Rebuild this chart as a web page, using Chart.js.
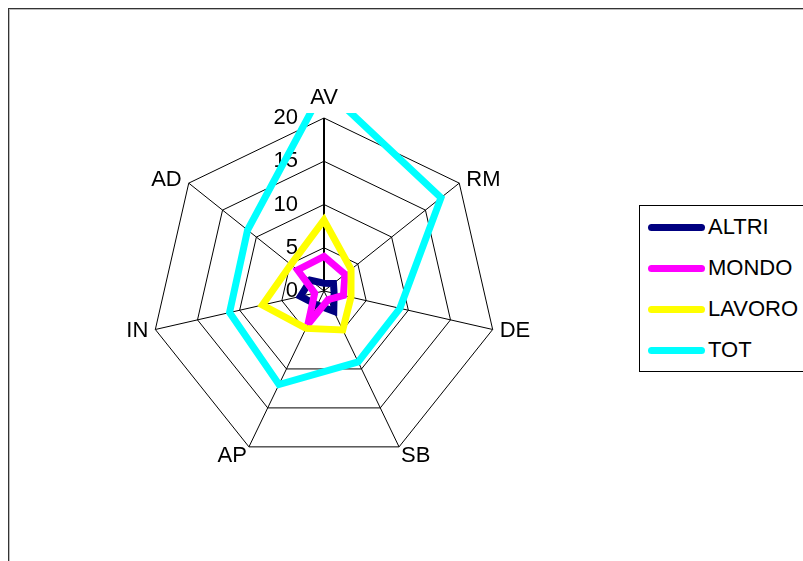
<!DOCTYPE html>
<html>
<head>
<meta charset="utf-8">
<script src="https://cdn.jsdelivr.net/npm/chart.js@4/dist/chart.umd.min.js"></script>
<style>
  body { margin: 0; background: #fff; width: 803px; height: 561px; overflow: hidden; position: relative;
         font-family: "Liberation Sans", Arial, sans-serif; }
  #frame { position: absolute; left: 8px; top: 8px; width: 900px; height: 700px;
           border: 1px solid #333; box-shadow: inset 1px 1px 0 #bbb; }
  #chartBox { position: absolute; left: 0; top: 0; width: 803px; height: 561px; }
  #legend { position: absolute; left: 639px; top: 205px; width: 200px; height: 165px;
            border: 1px solid #000; background: #fff; }
  .item { position: absolute; left: 8px; height: 26px; margin-top: -13px; display: flex; align-items: center;
          font-size: 22px; color: #000; }
  .swatch { width: 57px; height: 7px; border-radius: 4px; margin-right: 3px; }
</style>
</head>
<body>
<div id="frame"></div>
<div id="chartBox"><canvas id="myChart" width="803" height="561"></canvas></div>
<div id="legend"></div>
<script>
var categories = ["AV", "RM", "DE", "SB", "AP", "IN", "AD"];
var seriesNames = ["ALTRI", "MONDO", "LAVORO", "TOT"];
var seriesColors = ["#000080", "#FF00FF", "#FFFF00", "#00FFFF"];
var altri = [0.9, 1.4, 1.2, 2.6, 1.8, 2.8, 2.0];
var mondo = [4.0, 3.1, 2.3, 1.1, 4.3, 1.1, 3.9];
var lavoro = [8.2, 4.0, 3.2, 5.0, 4.8, 7.3, 4.9];
var tot = [23.5, 17.3, 9.0, 9.1, 12.0, 11.2, 11.3];
var tickValues = [0, 5, 10, 15, 20];

var FONT = '"Liberation Sans", Arial, sans-serif';

// Excel-style text: tick numbers left of the AV axis, category names hugging the corners
var radarText = {
    id: "radarText",
    beforeDatasetsDraw: function (chart) {
        var s = chart.scales.r;
        var ctx = chart.ctx;
        ctx.save();
        ctx.font = "22px " + FONT;
        ctx.fillStyle = "#000";

        ctx.textAlign = "right";
        ctx.textBaseline = "middle";
        tickValues.forEach(function (v) {
            ctx.fillText(String(v), s.xCenter - 26, s.yCenter - s.getDistanceFromCenterForValue(v));
        });

        categories.forEach(function (name, i) {
            var p = s.getPointPosition(i, s.drawingArea);
            var a = s.getIndexAngle(i);
            var sin = Math.sin(a), cos = Math.cos(a);
            if (Math.abs(sin) < 0.1) {
                ctx.textAlign = "center";
                ctx.textBaseline = "alphabetic";
                ctx.fillText(name, p.x, p.y - 14);
            } else if (cos < -0.5) {
                ctx.textAlign = sin > 0 ? "left" : "right";
                ctx.textBaseline = "alphabetic";
                ctx.fillText(name, p.x + (sin > 0 ? 2 : -2), p.y + 15);
            } else {
                ctx.textAlign = sin > 0 ? "left" : "right";
                ctx.textBaseline = "middle";
                ctx.fillText(name, p.x + (sin > 0 ? 7 : -7), p.y - 5 * cos);
            }
        });
        ctx.restore();

        // keep sharp corners from turning into long spikes
        ctx.miterLimit = 2;
    },
    afterDatasetsDraw: function (chart) {
        chart.ctx.miterLimit = 10;
    },
};

var values = [altri, mondo, lavoro, tot];
var datasets = seriesNames.map(function (name, i) {
    return {
        label: name,
        data: values[i],
        borderColor: seriesColors[i],
        backgroundColor: seriesColors[i],
        borderWidth: 7,
        pointRadius: 0,
        fill: false,
        order: seriesNames.length - i,
        clip: { left: false, top: 5, right: false, bottom: false },
    };
});

var ctx = document.getElementById("myChart").getContext("2d");
var myChart = new Chart(ctx, {
    type: "radar",
    data: { labels: categories, datasets: datasets },
    options: {
        responsive: false,
        animation: false,
        maintainAspectRatio: false,
        layout: { padding: { left: 151, right: 306, top: 118, bottom: 97 } },
        plugins: {
            legend: { display: false },
            tooltip: { enabled: false },
        },
        scales: {
            r: {
                min: 0,
                max: 20,
                ticks: { display: false, stepSize: 5 },
                grid: { color: "#000", lineWidth: 1 },
                angleLines: {
                    color: "#000",
                    lineWidth: function (c) { return c.index === 0 ? 2 : 1; },
                },
                pointLabels: { display: false },
            },
        },
    },
    plugins: [radarText],
});

var legend = document.getElementById("legend");
seriesNames.forEach(function (name, i) {
    var row = document.createElement("div");
    row.className = "item";
    row.style.top = (21 + i * 41) + "px";
    row.innerHTML = '<span class="swatch" style="background:' + seriesColors[i] + '"></span>' + name;
    legend.appendChild(row);
});
</script>
</body>
</html>
